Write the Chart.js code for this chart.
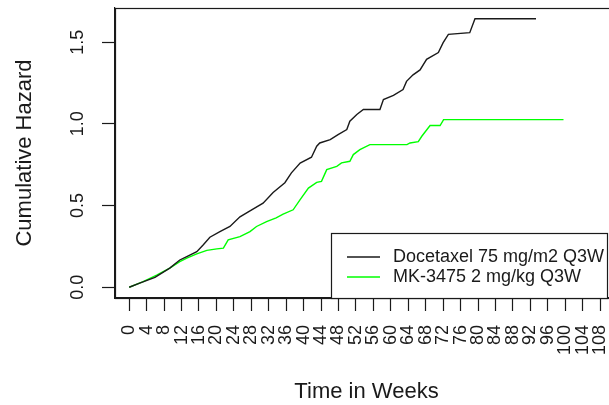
<!DOCTYPE html>
<html>
<head>
<meta charset="utf-8">
<script src="https://cdn.jsdelivr.net/npm/chart.js@4.4.1/dist/chart.umd.min.js"></script>
<style>
  html, body { margin: 0; padding: 0; overflow: hidden; background: #fff; }
  canvas { display: block; }
</style>
</head>
<body>
<canvas id="hazChart" width="620" height="405"></canvas>
<script>
// Docetaxel arm: week, cumulative hazard
const docWeeks = [0, 2.4, 5.9, 9.3, 11.6, 13.2, 15.5, 17.0, 18.5, 20.8, 23.1, 25.4, 27.7, 30.7, 33.0,
  35.7, 37.2, 39.2, 41.8, 43.0, 43.7, 46.1, 47.9, 49.9, 50.6, 52.2, 53.7, 57.5, 58.3, 60.6,
  62.8, 63.6, 65.1, 66.7, 68.2, 70.9, 72.0, 73.2, 78.1, 79.3, 93.3];
const docHaz = [0, 0.025, 0.061, 0.117, 0.167, 0.188, 0.218, 0.26, 0.306, 0.341, 0.372, 0.431, 0.468, 0.515, 0.58,
  0.64, 0.70, 0.76, 0.796, 0.863, 0.883, 0.904, 0.934, 0.965, 1.016, 1.057, 1.088, 1.088, 1.149, 1.174,
  1.21, 1.26, 1.30, 1.33, 1.395, 1.436, 1.497, 1.548, 1.558, 1.643, 1.643];

// MK-3475 arm
const mkWeeks = [0, 3.2, 6.3, 9.3, 11.6, 13.2, 15.5, 17.8, 20.1, 21.6, 22.7, 25.4, 27.7, 29.2, 31.5,
  33.7, 35.3, 37.6, 39.2, 41.1, 43.0, 44.1, 45.3, 47.6, 48.7, 50.6, 51.4, 52.9, 55.2, 63.7,
  64.4, 66.3, 67.1, 69.0, 71.3, 72.1, 99.6];
const mkHaz = [0, 0.034, 0.075, 0.117, 0.157, 0.178, 0.204, 0.226, 0.235, 0.239, 0.29, 0.31, 0.341, 0.372, 0.402,
  0.425, 0.447, 0.474, 0.536, 0.607, 0.642, 0.648, 0.72, 0.74, 0.761, 0.771, 0.812, 0.842, 0.873, 0.873,
  0.883, 0.891, 0.924, 0.99, 0.99, 1.026, 1.026];

const seriesNames = ['Docetaxel 75 mg/m2 Q3W', 'MK-3475 2 mg/kg Q3W'];
const seriesColors = ['#1a1a1a', '#00ff00'];

const xTicks = [0, 4, 8, 12, 16, 20, 24, 28, 32, 36, 40, 44, 48, 52, 56, 60, 64, 68, 72, 76, 80, 84, 88, 92, 96, 100, 104, 108];
const yTicks = [0, 0.5, 1.0, 1.5];
const yTickLabels = ['0.0', '0.5', '1.0', '1.5'];

const FONT = 'Liberation Sans, Arial, sans-serif';

const toPoints = (xs, ys) => xs.map((x, i) => ({ x: x, y: ys[i] }));

const noPad = s => { s.paddingLeft = 0; s.paddingRight = 0; s.paddingTop = 0; s.paddingBottom = 0; };

// box round the plot region (R's box())
const boxPlugin = {
  id: 'box',
  afterDraw(chart) {
    const { ctx, chartArea: a } = chart;
    ctx.save();
    ctx.strokeStyle = '#1a1a1a';
    ctx.lineWidth = 1.2;
    ctx.strokeRect(a.left + 0.5, a.top + 0.5, a.right - a.left, a.bottom - a.top);
    ctx.restore();
  }
};

// vertical y tick labels, R style
const yLabelPlugin = {
  id: 'yLabels',
  afterDraw(chart) {
    const { ctx } = chart;
    const ys = chart.scales.y;
    ctx.save();
    ctx.fillStyle = '#1a1a1a';
    ctx.font = '18px ' + FONT;
    ctx.textAlign = 'center';
    ctx.textBaseline = 'alphabetic';
    yTicks.forEach((v, i) => {
      ctx.save();
      ctx.translate(83, ys.getPixelForValue(v));
      ctx.rotate(-Math.PI / 2);
      ctx.fillText(yTickLabels[i], 0, 0);
      ctx.restore();
    });
    ctx.restore();
  }
};

// legend box in the bottom right
const legendPlugin = {
  id: 'rLegend',
  afterDraw(chart) {
    const { ctx, chartArea: a } = chart;
    const bx = 331, by = 233, bw = 276, bh = a.bottom - by;
    ctx.save();
    ctx.fillStyle = '#fff';
    ctx.fillRect(bx, by, bw, bh);
    ctx.strokeStyle = '#1a1a1a';
    ctx.lineWidth = 1.2;
    ctx.strokeRect(bx + 0.5, by + 0.5, bw, bh);
    ctx.font = '18px ' + FONT;
    ctx.textBaseline = 'middle';
    ctx.textAlign = 'left';
    chart.data.datasets.forEach((ds, i) => {
      const ly = 257 + i * 20;
      ctx.strokeStyle = ds.borderColor;
      ctx.lineWidth = 1.4;
      ctx.beginPath();
      ctx.moveTo(347, ly);
      ctx.lineTo(380, ly);
      ctx.stroke();
      ctx.fillStyle = '#1a1a1a';
      ctx.fillText(ds.label, 393, ly);
    });
    ctx.restore();
  }
};

new Chart(document.getElementById('hazChart'), {
  type: 'line',
  data: {
    datasets: [
      { label: seriesNames[0], data: toPoints(docWeeks, docHaz), borderColor: seriesColors[0], borderWidth: 1.4, pointRadius: 0, fill: false, tension: 0 },
      { label: seriesNames[1], data: toPoints(mkWeeks, mkHaz), borderColor: seriesColors[1], borderWidth: 1.4, pointRadius: 0, fill: false, tension: 0 }
    ]
  },
  options: {
    responsive: false,
    animation: false,
    layout: { padding: { left: 0, top: 8, right: 2, bottom: 0 } },
    plugins: { legend: { display: false }, tooltip: { enabled: false } },
    scales: {
      x: {
        type: 'linear',
        min: -3.26,
        max: 112.1,
        afterBuildTicks: s => { s.ticks = xTicks.map(v => ({ value: v })); },
        afterFit: s => { s.height = 107; noPad(s); },
        ticks: {
          autoSkip: false, minRotation: 90, maxRotation: 90, padding: 14,
          color: '#1a1a1a', font: { family: FONT, size: 18 },
          callback: v => String(v)
        },
        grid: { drawOnChartArea: false, drawTicks: true, tickLength: 13, tickColor: '#1a1a1a', tickWidth: 1.2 },
        border: { display: true, color: '#1a1a1a', width: 1.2 },
        title: { display: true, text: 'Time in Weeks', color: '#1a1a1a', font: { family: FONT, size: 22 }, padding: { top: 0, bottom: 0 } }
      },
      y: {
        min: -0.0657,
        max: 1.709,
        afterBuildTicks: s => { s.ticks = yTicks.map(v => ({ value: v })); },
        afterFit: s => { s.width = 115; noPad(s); },
        ticks: { display: false },
        grid: { drawOnChartArea: false, drawTicks: true, tickLength: 13, tickColor: '#1a1a1a', tickWidth: 1.2 },
        border: { display: true, color: '#1a1a1a', width: 1.2 },
        title: { display: true, text: 'Cumulative Hazard', color: '#1a1a1a', font: { family: FONT, size: 22 }, padding: { top: 12, bottom: 0 } }
      }
    }
  },
  plugins: [boxPlugin, yLabelPlugin, legendPlugin]
});
</script>
</body>
</html>
